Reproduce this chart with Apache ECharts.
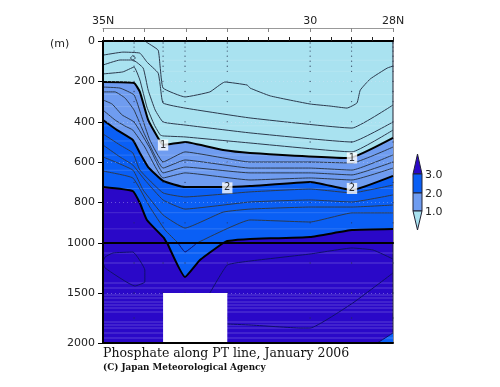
<!DOCTYPE html>
<html>
<head>
<meta charset="utf-8">
<style>html,body{margin:0;background:#fff}#chart{width:500px;height:387px}</style>
<script src="https://cdn.jsdelivr.net/npm/echarts@6/dist/echarts.min.js"></script>
</head>
<body>
<div id="chart"></div>
<script>
// all contours are [latitude, depth]
const c02 = [[33.96,5],[33.67,45],[33.62,129],[33.55,233],[33.02,277],[32.42,252],[32.06,203],[31.52,218],[31.45,233],[30.96,272],[30,312],[29.52,322],[29.11,332],[28.87,307],[28.79,243],[28.55,188],[28.14,134],[28,124]];
const c04 = [[35,70],[34.52,55],[34.11,60],[33.94,104],[33.67,158],[33.62,218],[33.55,307],[33.02,332],[31.45,381],[28.99,431],[28,317]];
const c06 = [[35,119],[34.59,94],[34.28,94],[34.03,134],[33.91,243],[33.74,342],[33.55,401],[33.02,416],[31.45,455],[28.99,500],[28,401]];
const c06Ring = [[34.34,84],[34.28,72],[34.22,84],[34.28,96],[34.34,84]];
const c08 = [[35,163],[34.52,153],[34.25,129],[34.11,193],[33.94,327],[33.76,416],[33.62,465],[33.55,470],[33.02,475],[31.45,505],[28.99,549],[28,441]];
const c10 = [[35,203],[34.25,208],[34.11,252],[33.91,391],[33.67,480],[33.55,515],[33.02,500],[32.1,540],[31.45,554],[29.05,579],[28,480]];
const c12 = [[35,228],[34.59,233],[34.25,267],[34.08,366],[33.87,490],[33.55,599],[33.02,549],[31.45,599],[30,599],[28.99,604],[28,525]];
const c14 = [[35,252],[34.71,252],[34.47,282],[34.25,342],[33.99,465],[33.55,629],[33.02,589],[31.45,629],[30,629],[28.99,639],[28,564]];
const c16 = [[35,292],[34.78,312],[34.54,366],[34.25,401],[33.87,530],[33.55,653],[33.02,624],[31.45,653],[30,653],[28.99,663],[28,599]];
const c18 = [[35,342],[34.71,391],[34.47,421],[34.28,441],[33.99,525],[33.55,678],[33.02,653],[31.45,688],[30,678],[28.99,688],[28,629]];
const c20 = [[35,391],[34.66,441],[34.28,490],[34.11,554],[33.91,624],[33.55,693],[33.02,723],[32.1,723],[31.45,718],[30,698],[28.99,738],[28,668]];
const c22 = [[35,460],[34.59,515],[34.28,554],[34.11,639],[33.55,752],[33.02,772],[31.45,747],[30,733],[28.99,752],[28,713]];
const c24 = [[35,515],[34.59,574],[34.28,614],[33.99,688],[33.55,787],[33.02,832],[31.45,797],[30,787],[28.99,797],[28,762]];
const c26 = [[35,574],[34.28,639],[34.03,738],[33.55,861],[33.02,926],[32.1,847],[31.45,832],[30,822],[28.99,822],[28,812]];
const c28 = [[35,644],[34.28,678],[33.87,822],[33.5,936],[33.19,1000],[33.02,1045],[32.73,1000],[31.45,886],[30,896],[28.99,851],[28,851]];
const c30 = [[35,723],[34.28,743],[34.11,802],[33.94,886],[33.53,975],[33.45,1000],[32.1,1000],[32,990],[31.45,980],[30,970],[28.99,936],[28,931]];
// below 1000 m
const c28Deep = [[33.19,1000],[33.02,1090],[32.73,1000]];
const c30Deep = [[33.45,1000],[33.02,1340],[32.66,1170],[32.1,1000]];
const c30Corner = [[28.38,2000],[28,1900]];
const c32Loop = [[35,1190],[34.95,1140],[34.76,1100],[34.28,1090],[33.99,1270],[33.99,1390],[34.23,1430],[34.95,1250],[35,1190]];
const c32 = [[32.42,1500],[32,1220],[31.45,1180],[30,1110],[28.99,1050],[28.48,1070],[28,1160]];
const c34 = [[32,1810],[31.45,1820],[30.24,1850],[30,1850],[28.97,1600],[28,1300]];
const noData = [33.55, 32, 1500, 2000];

const stationLats = [35,34.25,33.55,33.02,32,30,29,28];
const sampleDepths = [10,30,50,75,100,125,150,200,250,300,400,500,600,700,800,900];
const deepSampleDepths = [1000,1200,1500,1750];
const topLabels = {35:'35N', 30:'30', 28:'28N'};
const topTicks = [35,34,33,32,31,30,29,28];
const stationTicks = [35,34.75,34.5,34.25,34,33.55,33,32.5,32,31.5,31,30.5,30,29.5,29,28.5,28];
const upperStripes = [95,150,265,325,420,495,565,640,730,850,930];
const lowerStripes = [1100,1200,1400,1450,1520,1550,1590,1620,1650,1690,1790,1820,1850,1900,1950];
const legendLabels = ['3.0','2.0','1.0'];

const LIGHT = '#a9e2f0', MID = '#6f9cf0', BLUE = '#0a5ff5', DARK = '#2a08c8';
const LINE = '#2c3a4e';
const FONT = '"DejaVu Sans"';
const SMOOTH = 0.12;

const fill = (data, color, grid, origin) => ({
	type: 'line', data, symbol: 'none', animation: false, silent: true, smooth: SMOOTH,
	xAxisIndex: grid ? 2 : 1, yAxisIndex: grid,
	lineStyle: {width: 0},
	areaStyle: {color, opacity: 1, origin: origin || 'end'},
	z: 2,
});
const contour = (data, grid, width, color) => ({
	type: 'line', data, symbol: 'none', animation: false, silent: true, smooth: SMOOTH,
	xAxisIndex: grid ? 2 : 1, yAxisIndex: grid,
	lineStyle: {width: width || 1, color: color || LINE},
	z: 4,
});
const stripes = (depths, grid) => ({
	type: 'custom', data: depths.map(d => [d]), silent: true, animation: false,
	xAxisIndex: grid ? 2 : 1, yAxisIndex: grid,
	encode: {y: 0},
	renderItem: (params, api) => {
		const a = api.coord([35, api.value(0)]);
		const b = api.coord([28, api.value(0)]);
		return {type: 'line', shape: {x1: a[0], y1: a[1], x2: b[0], y2: b[1]},
			style: {stroke: grid ? 'rgba(255,255,255,0.22)' : 'rgba(255,255,255,0.14)', lineWidth: 1}};
	},
	z: 3,
});
const dots = (depths, grid) => ({
	type: 'scatter', silent: true, animation: false, symbolSize: 1.3,
	xAxisIndex: grid ? 2 : 1, yAxisIndex: grid,
	data: stationLats.flatMap(lat => depths.map(d => [lat, d])),
	itemStyle: {color: '#26304c'},
	z: 5,
});
const contourLabel = (text, points) => ({
	type: 'scatter', silent: true, animation: false, symbolSize: 0,
	xAxisIndex: 1, yAxisIndex: 0, data: points,
	label: {show: true, position: 'inside', formatter: text, color: '#000', fontFamily: FONT, fontSize: 10,
		backgroundColor: '#fff', padding: [1, 2, 0, 2]},
	z: 8,
});
const frameAxis = (gridIndex, position) => ({
	type: 'value', gridIndex, position, inverse: true, min: 28, max: 35, z: 10,
	axisLine: {show: true, onZero: false, lineStyle: {color: '#000', width: 2}},
	axisTick: {show: false}, axisLabel: {show: false}, splitLine: {show: false},
});
const depthAxis = (gridIndex, min, max, interval, formatter) => ({
	type: 'value', gridIndex, inverse: true, min, max, interval, z: 6,
	axisLine: {show: true, lineStyle: {color: '#000', width: 2}},
	axisTick: {show: true, length: 5, lineStyle: {color: '#000'}},
	axisLabel: {margin: 8, color: '#222', fontFamily: FONT, fontSize: 11, formatter},
	splitLine: {show: true, lineStyle: {color: 'rgba(225,225,245,0.35)', type: [1, 3]}},
});

const chart = echarts.init(document.getElementById('chart'), null, {renderer: 'canvas'});
chart.setOption({
	animation: false,
	backgroundColor: '#fff',
	title: [
		{text: 'Phosphate along PT line, January 2006', left: 103, top: 347, padding: 0,
			textStyle: {fontFamily: '"DejaVu Serif"', fontSize: 12.5, fontWeight: 'normal', color: '#111'}},
		{text: '(C) Japan Meteorological Agency', left: 103, top: 363, padding: 0,
			textStyle: {fontFamily: '"DejaVu Serif"', fontSize: 8.8, fontWeight: 'bold', color: '#111'}},
	],
	grid: [
		{left: 103, top: 41, width: 290, height: 202, show: true, backgroundColor: LIGHT, borderColor: '#223', borderWidth: 1},
		{left: 103, top: 243, width: 290, height: 100, show: true, backgroundColor: DARK, borderColor: '#223', borderWidth: 1},
	],
	xAxis: [
		{type: 'value', gridIndex: 0, position: 'top', offset: 13, inverse: true, min: 28, max: 35,
			axisLine: {show: true, onZero: false, lineStyle: {color: '#999'}},
			axisTick: {show: true, inside: true, length: 4, customValues: topTicks, lineStyle: {color: '#888'}},
			axisLabel: {customValues: [35, 30, 28], formatter: v => topLabels[v], margin: 1, color: '#222', fontFamily: FONT, fontSize: 11},
			splitLine: {show: false}},
		{...frameAxis(0, 'top'), axisTick: {show: true, length: 4, customValues: stationTicks, lineStyle: {color: '#222'}}},
		frameAxis(1, 'top'),
		frameAxis(1, 'bottom'),
	],
	yAxis: [
		depthAxis(0, 0, 1000, 200, v => String(v)),
		depthAxis(1, 1000, 2000, 500, v => (v === 1000 ? '' : String(v))),
	],
	series: [
		fill(c10, MID, 0),
		fill(c20, BLUE, 0),
		fill(c30, DARK, 0),
		fill(c30Deep, BLUE, 1, 'start'),
		fill(c30Corner, BLUE, 1),
		stripes(upperStripes, 0),
		stripes(lowerStripes, 1),
		...[c02, c04, c06, c06Ring, c08, c12, c14, c16, c18, c22, c24, c26, c28].map(c => contour(c, 0)),
		...[c28Deep, c32Loop, c32, c34].map(c => contour(c, 1, 1, '#10106a')),
		contour(c10, 0, 2, '#000'),
		contour(c20, 0, 2, '#000'),
		contour(c30, 0, 2, '#000'),
		contour(c30Deep, 1, 2, '#000'),
		contour(c30Corner, 1, 1, '#10106a'),
		dots(sampleDepths, 0),
		dots(deepSampleDepths, 1),
		{
			type: 'custom', silent: true, animation: false, xAxisIndex: 2, yAxisIndex: 1, z: 7,
			data: [noData],
			encode: {x: [0, 1], y: [2, 3]},
			renderItem: (params, api) => {
				const a = api.coord([api.value(0), api.value(2)]);
				const b = api.coord([api.value(1), api.value(3)]);
				return {type: 'rect', shape: {x: a[0], y: a[1], width: b[0] - a[0], height: b[1] - a[1]}, style: {fill: '#fff'}};
			},
		},
		contourLabel('1', [[33.55,515],[28.99,579]]),
		contourLabel('2', [[32,727],[28.99,730]]),
	],
	graphic: [
		{type: 'text', left: 50, top: 39, style: {text: '(m)', fill: '#222', font: '11px ' + FONT}},
		{type: 'polygon', shape: {points: [[417.5,154],[422,174],[413,174]]}, style: {fill: DARK, stroke: '#223'}},
		{type: 'rect', shape: {x: 413, y: 174, width: 9, height: 19}, style: {fill: BLUE, stroke: '#223'}},
		{type: 'rect', shape: {x: 413, y: 193, width: 9, height: 18}, style: {fill: MID, stroke: '#223'}},
		{type: 'polygon', shape: {points: [[413,211],[422,211],[417.5,230]]}, style: {fill: LIGHT, stroke: '#223'}},
		...legendLabels.map((t, i) => ({type: 'text', left: 425, top: 170 + i * 18.5, style: {text: t, fill: '#222', font: '11px ' + FONT}})),
	],
});
</script>
</body>
</html>
